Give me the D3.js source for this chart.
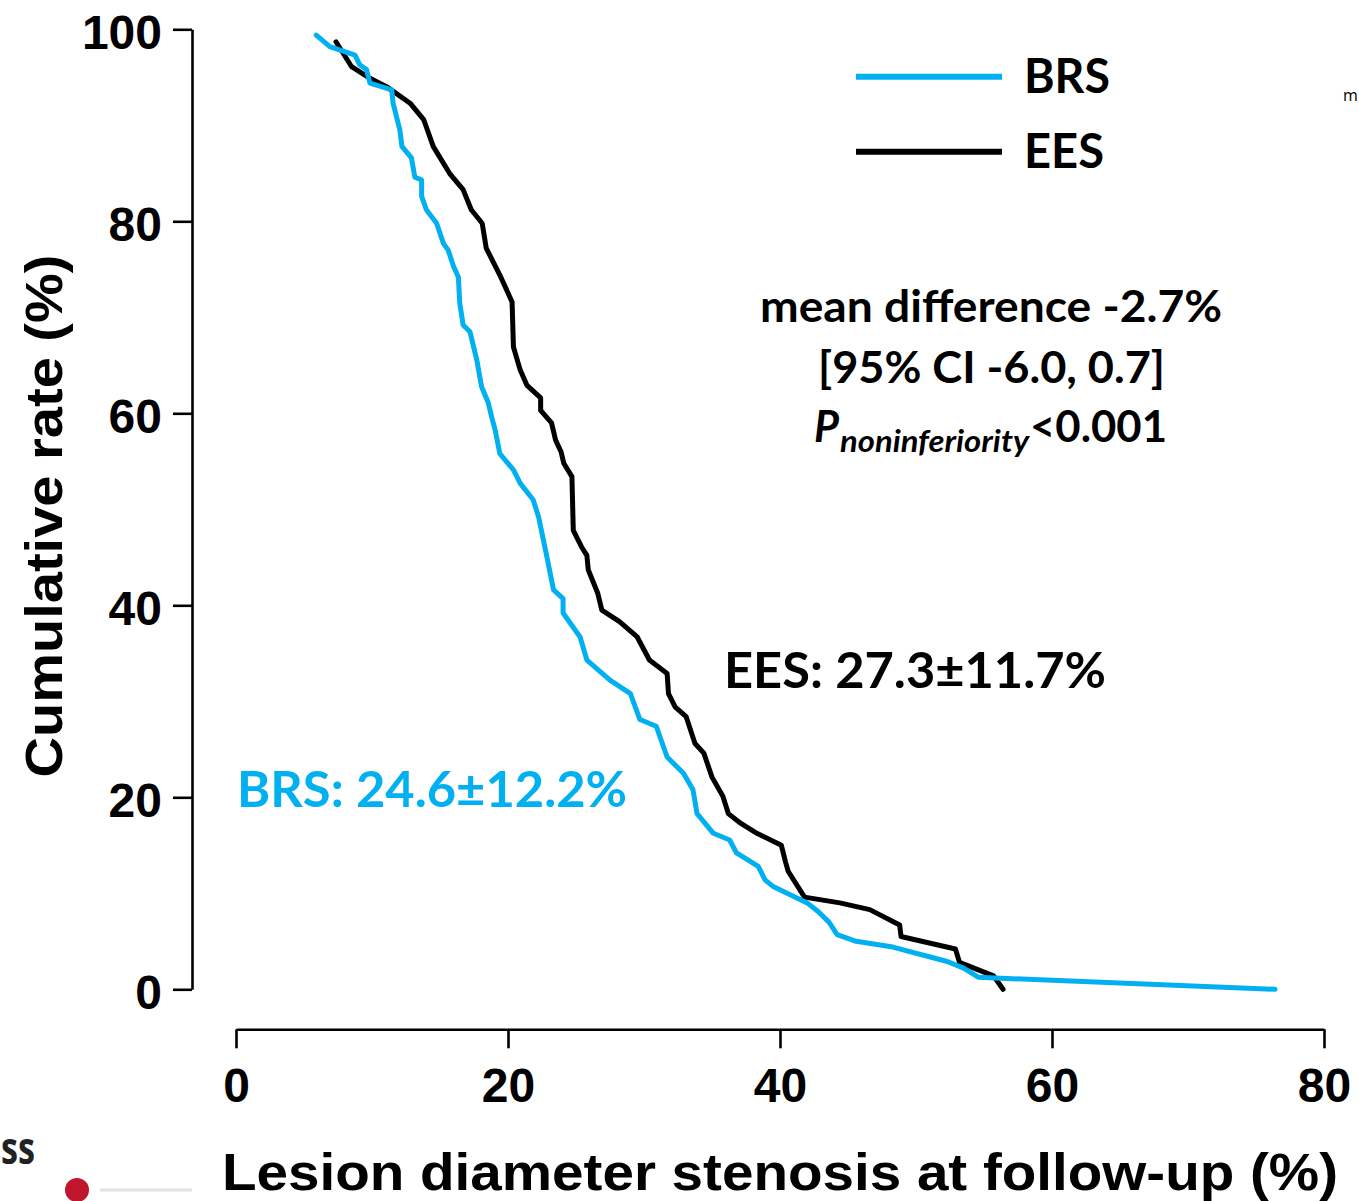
<!DOCTYPE html>
<html lang="en">

<head>
    <meta charset="UTF-8">
    <title>Cumulative rate of lesion diameter stenosis</title>
    <style>
        body {
            margin: 0;
            background: #fff;
        }

        .axis path,
        .axis line {
            stroke: #000;
            stroke-width: 2.6;
        }

        .axis text {
            font-family: "Liberation Sans", Arial, sans-serif;
            font-weight: bold;
            font-size: 48px;
            fill: #000;
        }

        .note {
            font-family: Lato, "Open Sans", sans-serif;
            font-weight: bold;
        }
    </style>
</head>

<body>
    <svg id="chart"></svg>

    <script src="https://d3js.org/d3.v7.min.js"></script>
    <script>
        // tick values
        const xTicks = [0, 20, 40, 60, 80];
        const yTicks = [0, 20, 40, 60, 80, 100];

        // BRS curve
        const brsX = [5.9, 6.9, 8.75, 9.1, 9.6, 9.85, 11.45, 11.55, 12.05, 12.2, 12.9, 13.15, 13.65, 13.65, 14.0, 14.75,
            15.25, 15.6, 16.0, 16.35, 16.45, 16.7, 17.2, 17.7, 18.05, 18.55, 18.8, 19.05, 19.4, 20.4, 20.9, 21.85, 22.25,
            22.85, 23.35, 24.05, 24.05, 25.3, 25.8, 27.5, 29.0, 29.7, 30.9, 31.7, 32.9, 33.6, 33.9, 35.1, 36.3, 36.8,
            38.4, 38.9, 39.5, 42.0, 42.8, 43.6, 44.2, 45.6, 48.3, 52.3, 53.5, 54.6, 76.4];
        const brsY = [99.4, 98.2, 97.3, 96.3, 95.8, 94.4, 93.7, 92.3, 89.5, 87.8, 86.6, 84.6, 84.3, 82.6, 81.2, 79.8,
            77.7, 77.0, 75.3, 74.2, 71.5, 69.2, 68.5, 65.6, 62.8, 61.1, 59.6, 58.3, 55.8, 54.1, 52.7, 51.0, 49.2,
            45.1, 41.6, 40.7, 39.2, 36.7, 34.3, 32.2, 30.8, 28.1, 27.4, 24.2, 22.5, 20.8, 18.3, 16.25, 15.55, 14.2,
            12.8, 11.4, 10.7, 9.0, 8.1, 7.0, 5.7, 5.0, 4.4, 2.9, 2.2, 1.25, 0];

        // EES curve
        const eesX = [7.35, 8.5, 9.85, 11.1, 12.8, 13.8, 14.5, 15.7, 16.7, 17.3, 18.1, 18.4, 19.4, 20.3, 20.4, 20.9,
            21.4, 22.4, 22.4, 23.2, 23.5, 23.9, 24.1, 24.7, 24.8, 25.4, 25.8, 25.9, 26.6, 26.9, 28.2, 29.5, 30.4, 31.7,
            31.8, 32.3, 33.1, 33.75, 34.4, 35.0, 35.8, 36.2, 37.1, 38.3, 40.1, 40.4, 40.6, 41.8, 44.4, 46.6, 48.8,
            48.9, 52.9, 53.2, 55.7, 56.4];
        const eesY = [98.7, 96.1, 94.9, 94.0, 92.3, 90.6, 87.8, 85.0, 83.3, 81.2, 79.8, 77.2, 74.4, 71.6, 66.9, 64.5,
            62.9, 61.6, 60.3, 59.0, 57.2, 56.0, 54.8, 53.4, 47.8, 46.1, 45.2, 43.7, 41.25, 39.5, 38.3, 36.7, 34.3, 32.9,
            30.8, 29.4, 28.4, 25.6, 24.6, 22.1, 20.1, 18.3, 17.3, 16.25, 15.0, 13.3, 12.3, 9.6, 9.0, 8.3, 6.7,
            5.5, 4.2, 2.8, 1.4, 0];

        const seriesNames = ["BRS", "EES"];
        const seriesColors = ["#00b0f0", "#000000"];

        const w = 1359;
        const h = 1201;
        const blue = seriesColors[0];

        const svg = d3.select("#chart")
            .attr("width", w)
            .attr("height", h);

        const xScale = d3.scaleLinear().domain([0, 80]).range([236, 1324]);
        const yScale = d3.scaleLinear().domain([0, 100]).range([989.3, 29.3]);

        // axes (offset from each other like the original)
        svg.append("g")
            .attr("class", "axis")
            .attr("transform", "translate(192,0)")
            .call(d3.axisLeft(yScale).tickValues(yTicks).tickSize(19).tickSizeOuter(0).tickPadding(11))
            .selectAll("text").attr("dy", "0.4em");

        svg.append("g")
            .attr("class", "axis")
            .attr("transform", "translate(0,1029.3)")
            .call(d3.axisBottom(xScale).tickValues(xTicks).tickSize(19).tickSizeOuter(0).tickPadding(20));

        // curves
        const line = d3.line()
            .x(d => xScale(d[0]))
            .y(d => yScale(d[1]));

        const curves = [
            brsX.map((x, i) => [x, brsY[i]]),
            eesX.map((x, i) => [x, eesY[i]])
        ];

        // draw EES first so BRS sits on top
        [1, 0].forEach(i => {
            svg.append("path")
                .datum(curves[i])
                .attr("d", line)
                .attr("fill", "none")
                .attr("stroke", seriesColors[i])
                .attr("stroke-width", 5)
                .attr("stroke-linejoin", "round")
                .attr("stroke-linecap", "round");
        });

        // legend
        seriesNames.forEach((name, i) => {
            const y = 76.7 + i * 75;
            svg.append("line")
                .attr("x1", 856).attr("x2", 1002)
                .attr("y1", y).attr("y2", y)
                .attr("stroke", seriesColors[i])
                .attr("stroke-width", 6);
            svg.append("text")
                .attr("class", "note")
                .attr("x", 1024).attr("y", y + 16.5)
                .attr("font-size", 48)
                .attr("textLength", i === 0 ? 86 : 80)
                .attr("lengthAdjust", "spacingAndGlyphs")
                .text(name);
        });

        // statistics text
        svg.append("text").attr("class", "note")
            .attr("x", 760).attr("y", 322).attr("font-size", 43)
            .attr("textLength", 462).attr("lengthAdjust", "spacingAndGlyphs")
            .text("mean difference -2.7%");

        svg.append("text").attr("class", "note")
            .attr("x", 818).attr("y", 383).attr("font-size", 43)
            .attr("textLength", 347).attr("lengthAdjust", "spacingAndGlyphs")
            .text("[95% CI -6.0, 0.7]");

        const pLine = svg.append("text").attr("class", "note")
            .attr("x", 814).attr("y", 442).attr("font-size", 43);
        pLine.append("tspan").attr("font-style", "italic").text("P");
        pLine.append("tspan").attr("font-style", "italic").attr("font-size", 31)
            .attr("x", 840).attr("y", 452)
            .attr("textLength", 189).attr("lengthAdjust", "spacingAndGlyphs")
            .text("noninferiority");
        pLine.append("tspan").attr("x", 1030).attr("y", 442)
            .attr("textLength", 137).attr("lengthAdjust", "spacingAndGlyphs")
            .text("<0.001");

        svg.append("text").attr("class", "note")
            .attr("x", 724).attr("y", 688).attr("font-size", 50)
            .attr("textLength", 382).attr("lengthAdjust", "spacingAndGlyphs")
            .text("EES: 27.3±11.7%");

        svg.append("text").attr("class", "note")
            .attr("x", 237).attr("y", 807).attr("font-size", 50)
            .attr("fill", blue)
            .attr("textLength", 390).attr("lengthAdjust", "spacingAndGlyphs")
            .text("BRS: 24.6±12.2%");

        // axis titles
        svg.append("text")
            .attr("x", 222).attr("y", 1190)
            .attr("font-family", "'Liberation Sans', Arial, sans-serif")
            .attr("font-weight", "bold").attr("font-size", 52)
            .attr("textLength", 1116).attr("lengthAdjust", "spacingAndGlyphs")
            .text("Lesion diameter stenosis at follow-up (%)");

        svg.append("text")
            .attr("transform", "translate(62,516) rotate(-90)")
            .attr("text-anchor", "middle")
            .attr("font-family", "'Liberation Sans', Arial, sans-serif")
            .attr("font-weight", "bold").attr("font-size", 52)
            .attr("textLength", 523).attr("lengthAdjust", "spacingAndGlyphs")
            .text("Cumulative rate (%)");

        // bits of the slide around the figure
        svg.append("text")
            .attr("x", 1).attr("y", 1164)
            .attr("font-family", "'Open Sans', sans-serif")
            .attr("font-weight", "bold").attr("font-size", 44).attr("fill", "#222")
            .attr("textLength", 34).attr("lengthAdjust", "spacingAndGlyphs")
            .text("ss");
        svg.append("line")
            .attr("x1", 100).attr("x2", 192).attr("y1", 1190).attr("y2", 1190)
            .attr("stroke", "#e2e2e2").attr("stroke-width", 3);
        svg.append("circle")
            .attr("cx", 77).attr("cy", 1190).attr("r", 12)
            .attr("fill", "#c0152a");
        svg.append("text")
            .attr("x", 1343).attr("y", 101)
            .attr("font-family", "'Open Sans', sans-serif")
            .attr("font-size", 16).attr("fill", "#000")
            .text("m");
    </script>
</body>

</html>
